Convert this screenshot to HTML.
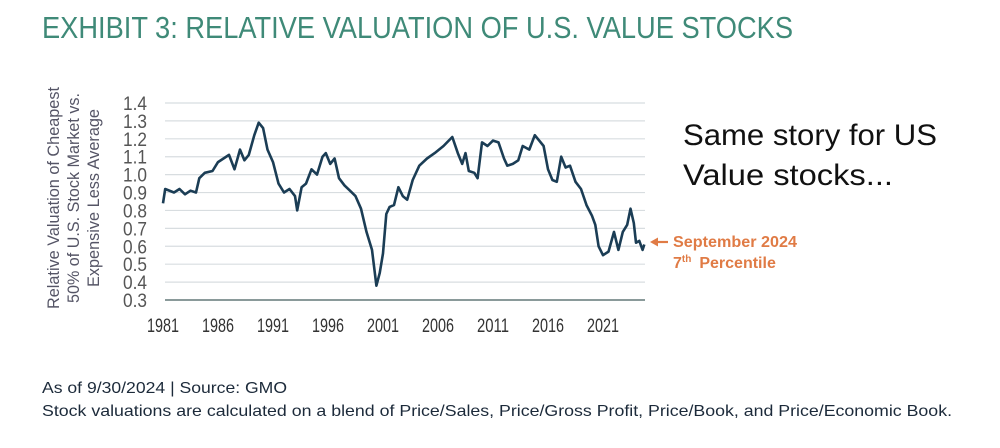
<!DOCTYPE html>
<html><head><meta charset="utf-8"><style>
html,body{margin:0;padding:0;background:#fff;width:1000px;height:448px;overflow:hidden}
svg{display:block;font-family:"Liberation Sans",sans-serif}
</style></head><body>
<svg id="chart" width="1000" height="448" viewBox="0 0 1000 448">
<text x="42" y="38" font-size="31" fill="#3f8a78" textLength="751" lengthAdjust="spacingAndGlyphs">EXHIBIT 3: RELATIVE VALUATION OF U.S. VALUE STOCKS</text>
<g fill="#556" font-size="17">
<text transform="translate(59,198) rotate(-90)" text-anchor="middle" textLength="222" lengthAdjust="spacingAndGlyphs">Relative Valuation of Cheapest</text>
<text transform="translate(79,198) rotate(-90)" text-anchor="middle" textLength="210" lengthAdjust="spacingAndGlyphs">50% of U.S. Stock Market vs.</text>
<text transform="translate(99,198) rotate(-90)" text-anchor="middle" textLength="178" lengthAdjust="spacingAndGlyphs">Expensive Less Average</text>
</g>
<g id="grid"></g><g id="yticks"></g><g id="xticks"></g>
<path id="line" fill="none" stroke="#1b3d55" stroke-width="2.6" stroke-linejoin="round"/>
<g>
<line x1="668" y1="242" x2="655" y2="242" stroke="#e07b45" stroke-width="2.2"/>
<polygon points="650,242 658,237.5 658,246.5" fill="#e07b45"/>
<text x="673" y="247" font-size="16" font-weight="bold" fill="#e07b45" textLength="124" lengthAdjust="spacingAndGlyphs">September 2024</text>
<text x="673" y="268" font-size="16" font-weight="bold" fill="#e07b45">7<tspan font-size="10" dy="-6">th</tspan><tspan dy="6" dx="8">Percentile</tspan></text>
</g>
<g font-size="30" fill="#111">
<text x="683" y="145" textLength="254" lengthAdjust="spacingAndGlyphs">Same story for US</text>
<text x="683" y="185" textLength="210" lengthAdjust="spacingAndGlyphs">Value stocks...</text>
</g>
<g font-size="16" fill="#1c2a3a">
<text x="42" y="393" textLength="245" lengthAdjust="spacingAndGlyphs">As of 9/30/2024 | Source: GMO</text>
<text x="42" y="416" textLength="910" lengthAdjust="spacingAndGlyphs">Stock valuations are calculated on a blend of Price/Sales, Price/Gross Profit, Price/Book, and Price/Economic Book.</text>
</g>
</svg>
<script>
const years=[1981.0,1981.2,1982,1982.5,1983,1983.5,1984,1984.3,1984.8,1985.5,1986,1986.5,1987,1987.5,1988,1988.4,1988.8,1989.3,1989.7,1990.1,1990.5,1991,1991.5,1992,1992.5,1993,1993.2,1993.6,1994,1994.5,1995,1995.5,1995.8,1996.2,1996.6,1997,1997.5,1998,1998.5,1999,1999.5,2000,2000.4,2000.7,2001,2001.3,2001.6,2002,2002.4,2002.8,2003.2,2003.7,2004.3,2005,2005.7,2006.5,2007.3,2007.8,2008.2,2008.5,2008.8,2009.3,2009.6,2010,2010.5,2011,2011.5,2012,2012.3,2012.8,2013.3,2013.7,2014.3,2014.8,2015.2,2015.6,2016,2016.4,2016.8,2017.2,2017.6,2018,2018.5,2019,2019.5,2020,2020.3,2020.6,2021,2021.5,2022,2022.4,2022.8,2023.2,2023.5,2023.8,2024,2024.3,2024.6,2024.75];
const values=[0.84,0.92,0.90,0.92,0.89,0.91,0.90,0.98,1.01,1.02,1.07,1.09,1.11,1.03,1.14,1.08,1.11,1.22,1.29,1.26,1.14,1.07,0.95,0.90,0.92,0.88,0.80,0.93,0.95,1.03,1.00,1.10,1.12,1.06,1.09,0.98,0.94,0.91,0.88,0.81,0.68,0.58,0.38,0.45,0.56,0.78,0.82,0.83,0.93,0.88,0.86,0.97,1.05,1.09,1.12,1.16,1.21,1.12,1.06,1.12,1.02,1.01,0.98,1.18,1.16,1.19,1.18,1.09,1.05,1.06,1.08,1.16,1.14,1.22,1.19,1.16,1.03,0.97,0.96,1.10,1.04,1.05,0.96,0.92,0.83,0.77,0.72,0.60,0.55,0.57,0.68,0.58,0.68,0.72,0.81,0.73,0.62,0.63,0.58,0.61];
const yTicks=[0.3,0.4,0.5,0.6,0.7,0.8,0.9,1.0,1.1,1.2,1.3,1.4];
const xTicks=[1981,1986,1991,1996,2001,2006,2011,2016,2021];
const NS="http://www.w3.org/2000/svg";
const x=v=>163+(v-1981)*11.0;
const y=v=>300-(v-0.3)*179.1;
const grid=document.getElementById('grid'),yt=document.getElementById('yticks'),xt=document.getElementById('xticks');
yTicks.forEach(t=>{
 const l=document.createElementNS(NS,'line');
 
 
 l.setAttribute('x1',165);l.setAttribute('x2',645);l.setAttribute('y1',y(t));l.setAttribute('y2',y(t));
 l.setAttribute('stroke',t===0.3?'#8a9a9a':'#d8dde0');l.setAttribute('stroke-width',t===0.3?2:1.2);
 grid.appendChild(l);
 const tx=document.createElementNS(NS,'text');
 
 
 tx.setAttribute('x',147);tx.setAttribute('y',y(t)+7);tx.setAttribute('text-anchor','end');
 tx.setAttribute('font-size','19.5');tx.setAttribute('fill','#555');
 tx.setAttribute('textLength','24');tx.setAttribute('lengthAdjust','spacingAndGlyphs');
 tx.textContent=t.toFixed(1);yt.appendChild(tx);
});
xTicks.forEach(t=>{
 const tx=document.createElementNS(NS,'text');
 
 
 tx.setAttribute('x',x(t));tx.setAttribute('y',332);tx.setAttribute('text-anchor','middle');
 tx.setAttribute('font-size','19');tx.setAttribute('fill','#333');
 tx.setAttribute('textLength','32');tx.setAttribute('lengthAdjust','spacingAndGlyphs');
 tx.textContent=t;xt.appendChild(tx);
});
document.getElementById('line').setAttribute('d',years.map((v,i)=>(i?'L':'M')+x(v).toFixed(1)+','+y(values[i]).toFixed(1)).join(''));
</script>
</body></html>
